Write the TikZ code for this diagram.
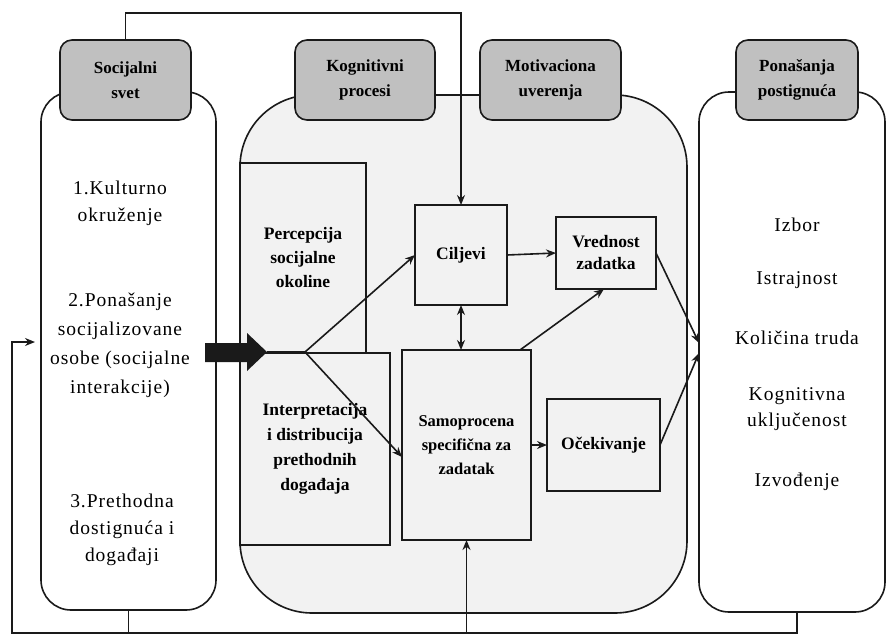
\documentclass[tikz,border=0pt]{standalone}
\usepackage{fontspec}
\setmainfont{Liberation Serif}
\usetikzlibrary{arrows.meta,calc}
\definecolor{hdrgray}{HTML}{C0C0C0}
\definecolor{reggray}{HTML}{F2F2F2}
\definecolor{ink}{HTML}{1A1A1A}
\tikzset{
  lw/.style={line width=1.6pt, draw=ink},
  hdr/.style={lw, fill=hdrgray, rounded corners=12pt, inner sep=0pt, outer sep=0pt,
    minimum height=80pt, align=center, font=\bfseries\fontsize{17}{25}\selectfont},
  bigbox/.style={lw, inner sep=0pt, outer sep=0pt},
  inbox/.style={lw, fill=reggray, inner sep=0pt, outer sep=0pt, align=center,
    font=\bfseries\fontsize{17.5}{24}\selectfont},
  lst/.style={align=center, inner sep=0pt, font=\fontsize{19.5}{27}\selectfont\addfontfeature{LetterSpace=5}},
  arr/.style={lw, -{Stealth[length=10pt,width=8pt]}},
  darr/.style={lw, {Stealth[length=10pt,width=8pt]}-{Stealth[length=10pt,width=8pt]}},
  conn/.style={lw}
}
\begin{document}
\begin{tikzpicture}[x=1pt,y=-1pt]
\useasboundingbox (0,0) rectangle (887,635);
% big containers
\node[bigbox, fill=white, rounded corners=30pt, minimum width=175pt, minimum height=518pt] (soc) at (128.5,351) {};
\node[bigbox, fill=reggray, rounded corners=72pt, minimum width=447pt, minimum height=518pt] (region) at (463.5,354) {};
\node[bigbox, fill=white, rounded corners=30pt, minimum width=186pt, minimum height=520pt] (pona) at (792,352) {};
% headers
\node[hdr, minimum width=131pt] (soch) at (125.5,80) {Socijalni\\svet};
\node[hdr, minimum width=140pt] (kogh) at (365,80) {Kognitivni\\procesi};
\node[hdr, minimum width=141pt] (moth) at (550.5,80) {Motivaciona\\uverenja};
\node[hdr, minimum width=122pt] (ponh) at (797,80) {Ponašanja\\postignuća};
% inner boxes
\node[inbox, minimum width=126pt, minimum height=190pt] (perc) at (303,258) {Percepcija\\socijalne\\okoline};
\node[inbox, minimum width=150pt, minimum height=192pt, font=\bfseries\fontsize{17.5}{25}\selectfont] (interp) at (315,449) {Interpretacija\\i distribucija\\prethodnih\\događaja};
\node[inbox, minimum width=92pt, minimum height=100pt] (cilj) at (461,255) {Ciljevi};
\node[inbox, minimum width=100pt, minimum height=72pt, font=\bfseries\fontsize{17.5}{22}\selectfont] (vred) at (606,253) {Vrednost\\zadatka};
\node[inbox, minimum width=129pt, minimum height=190pt, font=\bfseries\fontsize{16.5}{24}\selectfont] (samo) at (466.5,445) {Samoprocena\\specifična za\\zadatak};
\node[inbox, minimum width=113pt, minimum height=92pt] (ocek) at (603.5,445) {Očekivanje};
% left list
\node[lst] (l1) at (120,203) {1.Kulturno\\okruženje};
\node[lst, font=\fontsize{19.5}{29}\selectfont\addfontfeature{LetterSpace=5}] (l2) at (120,345) {2.Ponašanje\\socijalizovane\\osobe (socijalne\\interakcije)};
\node[lst] (l3) at (122,530) {3.Prethodna\\dostignuća i\\događaji};
% right list
\node[lst] (r1) at (797,225) {Izbor};
\node[lst] (r2) at (797,280) {Istrajnost};
\node[lst] (r3) at (797,338) {Količina truda};
\node[lst, font=\fontsize{19.5}{26}\selectfont\addfontfeature{LetterSpace=5}] (r4) at (797,409) {Kognitivna\\uključenost};
\node[lst] (r5) at (797,482) {Izvođenje};
% bold arrow
\fill[ink] (205,343) -- (247,343) -- (247,333) -- (267,352) -- (247,371) -- (247,362) -- (205,362) -- cycle;
\coordinate (tip) at (267,352);
\coordinate (split) at (305,352);
\draw[conn] (tip) -- (split);
\draw[arr] (split) -- (cilj.west);
\draw[arr] (split) -- ($(samo.west)+(0,12)$);
% inner connectors
\draw[arr] (cilj.east) -- (vred.west);
\draw[darr] (cilj.south) -- (cilj.south |- samo.north);
\draw[arr] ($(samo.north east)+(-11,0)$) -- ($(vred.south)+(-2,0)$);
\draw[arr] (samo.east) -- (ocek.west);
\draw[arr] (vred.east) -- ($(pona.west)+(0,-9)$);
\draw[arr] (ocek.east) -- ($(pona.west)+(0,1)$);
% top feedback
\draw[arr] (soch.north) -- ++(0,-27) -| (cilj.north);
% bottom feedback
\coordinate (fbL) at (12,633);
\coordinate (fbLtop) at (12,342);
\coordinate (fbIn) at (35,342);
\draw[arr] (soc.south) |- (fbL) -- (fbLtop) -- (fbIn);
\draw[conn] ($(pona.south)+(5,0)$) |- (fbL);
\draw[arr] (samo.south |- fbL) -- (samo.south);
\end{tikzpicture}
\end{document}
